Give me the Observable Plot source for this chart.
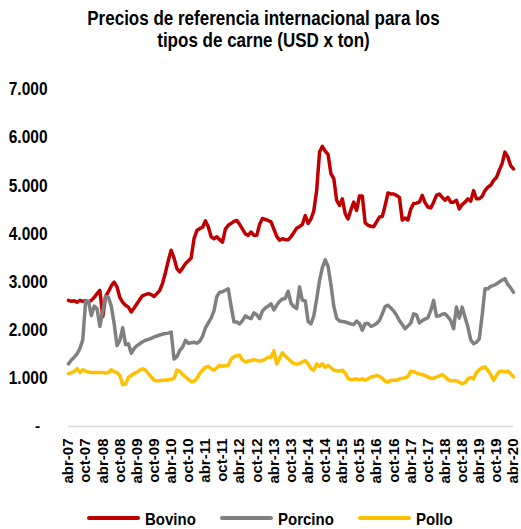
<!DOCTYPE html>
<html>
<head>
<meta charset="utf-8">
<script src="https://cdn.jsdelivr.net/npm/d3@7"></script>
<script src="https://cdn.jsdelivr.net/npm/@observablehq/plot@0.6"></script>
<style>
  html, body { margin: 0; padding: 0; background: #fff; }
  body { width: 521px; height: 529px; position: relative; overflow: hidden; font-family: "Liberation Sans", Arial, sans-serif; color: #000; }
  #title { position: absolute; left: 3px; top: 9px; width: 521px; text-align: center; font-weight: bold; font-size: 17px; line-height: 18.7px; transform: scaleY(1.15); transform-origin: 50% 0; }
  #chart { position: absolute; left: 0; top: 60px; }
  #legend { position: absolute; left: 0; top: 508px; width: 521px; height: 20px; }
  .item { position: absolute; top: 0; height: 20px; display: flex; align-items: center; font-weight: bold; font-size: 15px; }
  .item span { display: inline-block; transform: scaleY(1.15); }
  .sw { width: 53px; height: 4px; border-radius: 2px; margin-right: 5px; }
</style>
</head>
<body>
<div id="title">Precios de referencia internacional para los<br>tipos de carne (USD x ton)</div>
<div id="chart"></div>
<div id="legend"></div>
<script>
const seriesNames = ["Bovino", "Porcino", "Pollo"];
const seriesColors = ["#C00000", "#808080", "#FFC000"];

const xLabels = ["abr-07","oct-07","abr-08","oct-08","abr-09","oct-09","abr-10","oct-10","abr-11","oct-11",
  "abr-12","oct-12","abr-13","oct-13","abr-14","oct-14","abr-15","oct-15","abr-16","oct-16",
  "abr-17","oct-17","abr-18","oct-18","abr-19","oct-19","abr-20"];
const yTicks = [1000, 2000, 3000, 4000, 5000, 6000, 7000];
const yLabels = ["1.000", "2.000", "3.000", "4.000", "5.000", "6.000", "7.000"];
const zeroLabel = "-";

// Monthly prices, abr-07 .. abr-20 (USD per ton)
const bovino = [
  2620,2600,2610,2580,2620,2600,2610,2590,2620,2680,
  2760,2830,2280,2700,2800,2920,3000,2900,2680,2580,
  2520,2480,2380,2460,2550,2640,2720,2740,2760,2740,
  2700,2760,2830,2980,3200,3450,3660,3500,3280,3210,
  3290,3380,3440,3500,3900,4070,4110,4140,4270,4150,
  3940,3900,3940,3880,3830,4100,4180,4220,4260,4280,
  4200,4100,4000,3970,4040,3970,3970,4200,4320,4300,
  4280,4250,4100,3950,3870,3900,3880,3880,3940,4030,
  4120,4150,4200,4380,4220,4310,4480,4900,5700,5820,
  5720,5650,5250,5150,4700,4590,4730,4420,4310,4500,
  4660,4490,4790,4790,4230,4180,4160,4150,4250,4350,
  4360,4590,4850,4830,4830,4800,4760,4290,4330,4290,
  4520,4630,4640,4660,4800,4650,4560,4540,4660,4800,
  4830,4760,4700,4760,4660,4660,4700,4520,4610,4660,
  4730,4680,4900,4730,4730,4780,4900,4970,5010,5110,
  5170,5320,5460,5700,5600,5420,5350
];
const porcino = [
  1300,1380,1440,1510,1620,1800,2600,2600,2300,2500,
  2450,2080,2400,2700,2680,2500,2140,1680,1790,2050,
  1700,1720,1520,1620,1680,1720,1760,1790,1810,1830,
  1860,1880,1900,1920,1930,1940,1960,1400,1450,1580,
  1650,1790,1730,1740,1750,1730,1770,1870,2050,2150,
  2250,2400,2700,2790,2800,2830,2860,2500,2170,2170,
  2130,2200,2300,2260,2240,2360,2320,2240,2400,2460,
  2500,2550,2420,2520,2600,2650,2660,2810,2560,2490,
  2450,2900,2620,2610,2180,2130,2300,2650,3030,3300,
  3460,3330,2950,2500,2250,2190,2180,2170,2150,2130,
  2120,2190,2140,2000,2140,2140,2080,2100,2140,2200,
  2340,2490,2520,2460,2400,2310,2200,2120,2030,2090,
  2150,2340,2320,2150,2200,2230,2260,2410,2620,2290,
  2300,2330,2340,2280,2200,2030,2480,2250,2480,2270,
  2070,1800,1720,1750,1820,2300,2860,2860,2910,2930,
  2960,3000,3040,3070,2950,2880,2790
];
const pollo = [
  1100,1120,1140,1200,1120,1180,1150,1130,1120,1120,
  1120,1120,1120,1110,1120,1180,1140,1120,1060,870,
  880,1020,1060,1100,1130,1170,1200,1170,1100,1030,
  960,950,950,960,960,970,980,1000,1170,1150,
  1080,1030,980,930,940,1000,1100,1170,1230,1250,
  1200,1170,1220,1270,1250,1260,1270,1400,1450,1470,
  1480,1380,1340,1360,1370,1390,1370,1360,1370,1400,
  1440,1440,1570,1300,1410,1530,1460,1410,1350,1310,
  1290,1310,1340,1370,1300,1200,1170,1300,1250,1300,
  1230,1270,1220,1170,1160,1150,1170,1110,1000,970,
  980,990,970,990,960,990,1030,1040,1060,1040,
  1000,940,920,960,960,960,990,1000,1010,1040,
  1150,1140,1110,1090,1080,1060,1030,1000,1000,1030,
  1050,1080,1030,980,950,950,950,920,890,910,
  990,1020,990,1120,1180,1220,1240,1170,1080,960,
  1060,1140,1150,1130,1150,1100,1030
];

const allSeries = [bovino, porcino, pollo];
const rows = [];
allSeries.forEach((arr, s) => arr.forEach((v, i) => rows.push({ i, value: v, serie: seriesNames[s] })));
const xTicks = xLabels.map((_, k) => k * 6);

const chart = Plot.plot({
  width: 521,
  height: 440,
  marginLeft: 68,
  marginRight: 8,
  marginTop: 29,
  marginBottom: 74,
  style: { fontFamily: "'Liberation Sans', Arial, sans-serif", color: "#000", background: "#fff" },
  x: { domain: [0, bovino.length - 1] },
  y: { domain: [0, 7000] },
  color: { domain: seriesNames, range: seriesColors },
  marks: [
    Plot.ruleY([0], { stroke: "#d9d9d9", strokeWidth: 1.5 }),
    Plot.line(rows, { x: "i", y: "value", z: "serie", stroke: "serie", strokeWidth: 3.5, strokeLinejoin: "round", strokeLinecap: "round" }),
    Plot.axisX({ ticks: xTicks, tickFormat: d => xLabels[d / 6], tickRotate: -90, tickSize: 0, tickPadding: 12, fontSize: 15, fontWeight: "bold", label: null }),
    Plot.axisY({ ticks: yTicks, tickFormat: d => yLabels[yTicks.indexOf(d)], tickSize: 0, tickPadding: 21, fontSize: 15.5, fontWeight: "bold", label: null }),
    Plot.text([0], { y: d => d, frameAnchor: "left", dx: -31, text: () => zeroLabel, fontSize: 15.5, fontWeight: "bold", textAnchor: "middle", ariaLabel: "yzero" })
  ]
});
// stretch the y tick labels vertically, as in the reference
d3.select(chart).selectAll("g[aria-label='y-axis tick label'] text, g[aria-label='yzero'] text").each(function () {
  const t = this.getAttribute("transform") || "";
  this.setAttribute("transform", t + " scale(1,1.15)");
});
document.getElementById("chart").appendChild(chart);

const legend = document.getElementById("legend");
const legendLeft = [87, 220, 358];
seriesNames.forEach((name, k) => {
  const item = document.createElement("div");
  item.className = "item";
  item.style.left = legendLeft[k] + "px";
  const sw = document.createElement("div");
  sw.className = "sw";
  sw.style.background = seriesColors[k];
  const tx = document.createElement("span");
  tx.textContent = name;
  item.appendChild(sw);
  item.appendChild(tx);
  legend.appendChild(item);
});
</script>
</body>
</html>
